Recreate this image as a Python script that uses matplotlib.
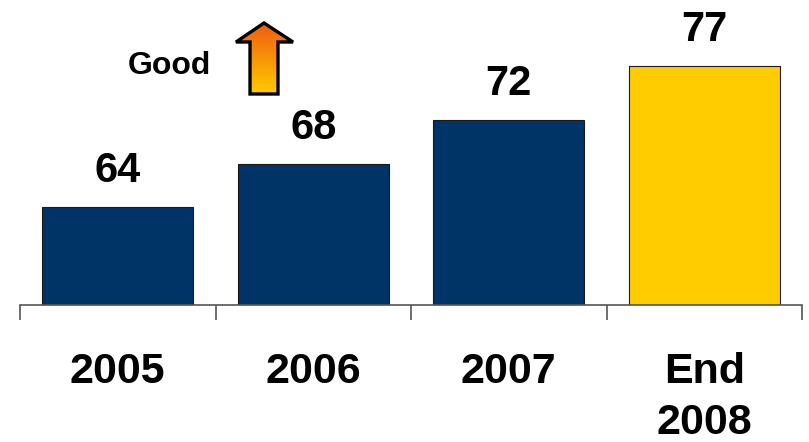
import matplotlib
matplotlib.use("Agg")
import matplotlib.pyplot as plt
import numpy as np
from matplotlib.patches import Polygon

# datos del grafico
categorias = ["2005", "2006", "2007", "End\n2008"]
valores = [64, 68, 72, 77]
colores = ["#003366", "#003366", "#003366", "#FFCC00"]

plt.rcParams['font.family'] = ['Liberation Sans', 'DejaVu Sans']

fig = plt.figure(figsize=(8.09, 4.42), dpi=100)
W, H = 809, 442

# eje principal: base en y=305 px, de x=20 a x=802
ax = fig.add_axes([20 / W, (H - 305) / H, 782 / W, 305 / H])
x = np.arange(len(categorias))
ax.bar(x, valores, width=0.77, color=colores, edgecolor="#1a1a1a", linewidth=0.8)
ax.set_xlim(-0.5, len(categorias) - 0.5)
ax.set_ylim(55, 83.1)

for xi, v in zip(x, valores):
    ax.annotate(str(v), (xi, v), xytext=(0, 18), textcoords="offset points",
                ha="center", va="baseline", fontsize=30, fontweight="bold")

for s in ["top", "left", "right"]:
    ax.spines[s].set_visible(False)
ax.spines["bottom"].set_color("#555555")
ax.spines["bottom"].set_linewidth(1.2)
ax.set_yticks([])

ax.set_xticks(x)
ax.set_xticklabels(categorias, fontsize=31, fontweight="bold")
for lab in ax.get_xticklabels():
    lab.set_linespacing(1.35)
ax.tick_params(axis="x", which="major", length=0, pad=34)
ax.set_xticks(np.arange(-0.5, len(categorias), 1.0), minor=True)
ax.tick_params(axis="x", which="minor", length=10.8, width=1.2, color="#555555", direction="out")

# flecha "Good" con degradado
ov = fig.add_axes([0, 0, 1, 1], zorder=5)
ov.set_xlim(0, W)
ov.set_ylim(H, 0)
ov.axis("off")
ov.patch.set_alpha(0)

pts = [(264, 23), (236, 42), (250, 42), (250, 94), (278, 94), (278, 42), (293, 42)]
flecha = Polygon(pts, closed=True, facecolor="none", edgecolor="black", linewidth=2.4, zorder=6)
ov.add_patch(flecha)
top = np.array([0.94, 0.36, 0.06])
bot = np.array([1.0, 0.80, 0.0])
t = np.linspace(0, 1, 100)[:, None, None]
grad = top * (1 - t) + bot * t
im = ov.imshow(grad, extent=(236, 293, 94, 23), origin="upper", aspect="auto", zorder=5)
im.set_clip_path(flecha)

ov.text(169, 74, "Good", ha="center", va="baseline", fontsize=23, fontweight="bold")

fig.savefig("out.png", dpi=100)
